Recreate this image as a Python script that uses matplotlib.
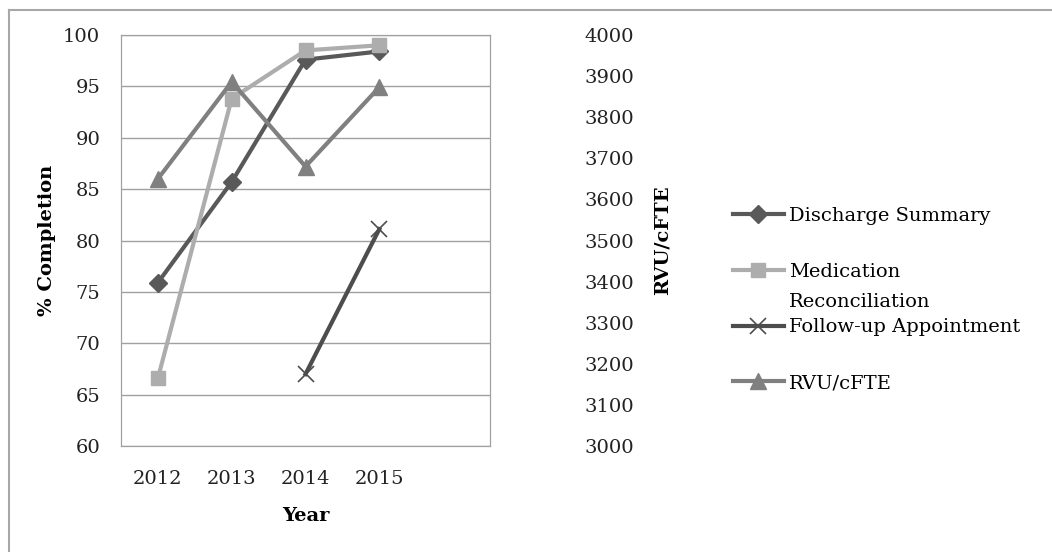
import numpy as np
import matplotlib.pyplot as plt
from matplotlib.lines import Line2D

years = ['2012', '2013', '2014', '2015']
discharge = [75.9, 85.7, 97.6, 98.4]
medication = [66.6, 93.8, 98.5, 99.0]
followup = [np.nan, np.nan, 67.0, 81.1]
rvu = [3650, 3886, 3680, 3873]

plt.rcParams['font.family'] = ['DejaVu Serif']

W, H = 1052, 552
fig = plt.figure(figsize=(W / 100, H / 100), dpi=100)
ax = fig.add_axes([121 / W, 1 - 446 / H, 369 / W, 411 / H])
ax2 = ax.twinx()

# last slot on the category axis stays empty, like the original
x = np.arange(len(years))
ax.plot(x, discharge, color='#595959', lw=3, marker='D', ms=9, label='Discharge Summary', zorder=3)
ax.plot(x, medication, color='#adadad', lw=3, marker='s', ms=10, label='Medication', zorder=3)
ax.plot(x, followup, color='#4d4d4d', lw=3, marker='x', ms=11, mew=1.2, label='Follow-up Appointment', zorder=3)
ax2.plot(x, rvu, color='#808080', lw=3, marker='^', ms=11, label='RVU/cFTE', zorder=3)

ax.set_xlim(-0.5, 4.5)
ax.set_ylim(60, 100)
ax.set_yticks(range(60, 101, 5))
ax2.set_ylim(3000, 4000)
ax2.set_yticks(range(3000, 4001, 100))
ax.set_xticks(x)
ax.set_xticklabels(years)
ax.grid(axis='y', color='#a0a0a0', lw=1)
ax.set_axisbelow(True)
for a in (ax, ax2):
    for s in a.spines.values():
        s.set_color('#a0a0a0')
    a.tick_params(length=0, labelsize=14, colors='#222222')
ax.tick_params(axis='y', pad=15)
ax.tick_params(axis='x', pad=17)
ax2.tick_params(axis='y', pad=68)

ax.set_xlabel('Year', fontsize=14, fontweight='bold', labelpad=14)
ax.set_ylabel('% Completion', fontsize=14, fontweight='bold', labelpad=5)
ax2.set_ylabel('RVU/cFTE', fontsize=14, fontweight='bold', labelpad=14)

h1, l1 = ax.get_legend_handles_labels()
h2, l2 = ax2.get_legend_handles_labels()
leg = fig.legend(h1 + h2, l1 + l2, loc='upper left', bbox_to_anchor=(733 / W, 1 - 207 / H),
                 frameon=False, fontsize=14, labelspacing=1.94, handlelength=2.6,
                 handletextpad=0.3, borderpad=0, borderaxespad=0)

# second line of the wrapped legend label
fig.canvas.draw()
bb = leg.get_texts()[1].get_window_extent()
fig.text(bb.x0 / W, (bb.y0 - 12) / H, 'Reconciliation', fontsize=14, va='top', ha='left')

# chart frame: top and left edges only
fig.add_artist(Line2D([9 / W, 1], [1 - 10 / H] * 2, color='#a8a8a8', lw=1.5))
fig.add_artist(Line2D([9 / W] * 2, [0, 1 - 10 / H], color='#a8a8a8', lw=1.5))

fig.savefig('out.png', dpi=100)
